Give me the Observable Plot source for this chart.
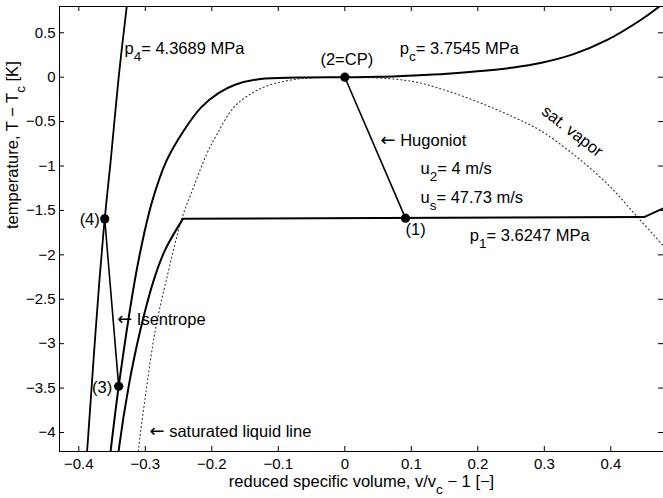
<!DOCTYPE html>
<html><head><meta charset="utf-8">
<script src="https://cdn.jsdelivr.net/npm/d3@7"></script>
<script src="https://cdn.jsdelivr.net/npm/@observablehq/plot@0.6"></script>
<style>body{margin:0;background:#fff;}</style>
</head><body><div id="chart"></div>
<script>
// axes
const xDomain = [-0.429, 0.4792];
const yDomain = [-4.214, 0.796];
const xTicks = [-0.4, -0.3, -0.2, -0.1, 0, 0.1, 0.2, 0.3, 0.4];
const yTicks = [-4, -3.5, -3, -2.5, -2, -1.5, -1, -0.5, 0, 0.5];
const xLabel = "reduced specific volume, v/v_c − 1 [−]";
const yLabel = "temperature, T − T_c [K]";

// isobar p4 = 4.3689 MPa
const p4V = [-0.3885, -0.3865, -0.378, -0.369, -0.361, -0.352, -0.340, -0.328, -0.327];
const p4T = [-4.30, -4.11, -3.20, -2.29, -1.595, -0.94, 0.0, 0.79, 0.85];
// isobar pc = 3.7545 MPa
const pcV = [-0.3537, -0.352, -0.340, -0.3158, -0.302, -0.2894, -0.268, -0.242, -0.216, -0.19, -0.165, -0.127, -0.07, 0, 0.05, 0.104, 0.154, 0.204, 0.254, 0.294, 0.344, 0.3946, 0.442, 0.47, 0.478];
const pcT = [-4.30, -4.20, -3.48, -2.29, -1.77, -1.39, -0.94, -0.60, -0.34, -0.18, -0.085, -0.02, -0.004, 0, 0.004, 0.02, 0.04, 0.07, 0.11, 0.16, 0.26, 0.42, 0.63, 0.78, 0.83];
// isobar p1 = 3.6247 MPa: liquid branch, then two-phase plateau and vapor branch
const p1LiqV = [-0.3414, -0.340, -0.325, -0.3075, -0.2875, -0.2705, -0.2435];
const p1LiqT = [-4.30, -4.20, -3.48, -2.85, -2.29, -1.95, -1.595];
const p1VapV = [-0.2435, 0.45, 0.478, 0.49];
const p1VapT = [-1.595, -1.575, -1.48, -1.44];
// saturation dome
const satLiqV = [-0.311, -0.3098, -0.300, -0.285, -0.2686, -0.2445, -0.2295, -0.208, -0.192, -0.167, -0.142, -0.117, -0.087, -0.057, 0];
const satLiqT = [-4.30, -4.17, -3.60, -2.85, -2.29, -1.58, -1.28, -0.87, -0.64, -0.34, -0.19, -0.098, -0.04, -0.01, 0];
const satVapV = [0, 0.0535, 0.1038, 0.154, 0.204, 0.254, 0.294, 0.344, 0.3946, 0.442, 0.479, 0.486];
const satVapT = [0, -0.01, -0.05, -0.154, -0.29, -0.45, -0.60, -0.87, -1.20, -1.59, -1.90, -1.96];
// Hugoniot (1)->(2) and isentrope (4)->(3)
const hugV = [0, 0.0912];
const hugT = [0, -1.587];
const isenV = [-0.361, -0.340];
const isenT = [-1.595, -3.48];
// state points
const stateNames = ["(2=CP)", "(1)", "(3)", "(4)"];
const stateV = [0, 0.0912, -0.340, -0.361];
const stateT = [0, -1.587, -3.48, -1.595];

// annotations
const annLabels = ["p_4= 4.3689 MPa", "(2=CP)", "p_c= 3.7545 MPa", "← Hugoniot", "u_2= 4 m/s", "u_s= 47.73 m/s", "(1)", "p_1= 3.6247 MPa", "(4)", "(3)", "← Isentrope", "← saturated liquid line"];
const annV = [-0.3313, 0.003, 0.0827, 0.0537, 0.1138, 0.1138, 0.0913, 0.188, -0.3684, -0.3498, -0.3423, -0.2937];
const annT = [0.323, 0.196, 0.320, -0.713, -1.031, -1.358, -1.718, -1.782, -1.605, -3.497, -2.731, -3.986];
const annAnchor = ["start", "middle", "start", "start", "start", "start", "start", "start", "end", "end", "start", "start"];
const vaporLabel = ["sat. vapor"];
const vaporV = [0.342];
const vaporT = [-0.609];

const rows = (xs, ts) => xs.map((x, i) => ({x, t: ts[i]}));
const ann = annLabels.map((s, i) => ({s, x: annV[i], t: annT[i], a: annAnchor[i]}));
const solid = {x: "x", y: "t", stroke: "#000", curve: "catmull-rom", clip: true};
const dotted = {x: "x", y: "t", stroke: "#333", strokeWidth: 1.1, strokeDasharray: "1.1 2.9", curve: "catmull-rom", clip: true};
const annFont = 16.5;
const fmt = d => String(d).replace("-", "−");

const W = 663, H = 498, mL = 59, mR = 0, mT = 6, mB = 47, tickLen = 5;
const innerW = W - mL - mR, innerH = H - mT - mB;

const svg = Plot.plot({
  width: W, height: H,
  marginLeft: mL, marginRight: mR, marginTop: mT, marginBottom: mB,
  style: {fontFamily: "'Liberation Sans', Arial, sans-serif", fontSize: "15px", background: "#fff", color: "#000"},
  x: {domain: xDomain, label: null},
  y: {domain: yDomain, label: null},
  marks: [
    Plot.line(rows(satLiqV, satLiqT), dotted),
    Plot.line(rows(satVapV, satVapT), dotted),
    Plot.line(rows(p4V, p4T), {...solid, strokeWidth: 1.8}),
    Plot.line(rows(pcV, pcT), {...solid, strokeWidth: 2}),
    Plot.line(rows(p1LiqV, p1LiqT), {...solid, strokeWidth: 2}),
    Plot.line(rows(p1VapV, p1VapT), {...solid, strokeWidth: 2, curve: "linear"}),
    Plot.line(rows(hugV, hugT), {...solid, strokeWidth: 1.6, curve: "linear"}),
    Plot.line(rows(isenV, isenT), {...solid, strokeWidth: 1.6, curve: "linear"}),
    Plot.dot(rows(stateV, stateT), {x: "x", y: "t", r: 4.6, fill: "#000", stroke: null}),
    ...["start", "middle", "end"].map(a => Plot.text(ann.filter(d => d.a === a), {x: "x", y: "t", text: "s", textAnchor: a, lineAnchor: "middle", fontSize: annFont, fill: "#000"})),
    Plot.text(rows(vaporV, vaporT).map((d, i) => ({...d, s: vaporLabel[i]})), {x: "x", y: "t", text: "s", rotate: 38, textAnchor: "middle", lineAnchor: "middle", fontSize: annFont, fill: "#000"}),
    // inward ticks on all four sides
    Plot.tickX(xTicks, {x: d => d, stroke: "#000", insetTop: innerH - tickLen}),
    Plot.tickX(xTicks, {x: d => d, stroke: "#000", insetBottom: innerH - tickLen}),
    Plot.tickY(yTicks, {y: d => d, stroke: "#000", insetRight: innerW - tickLen}),
    Plot.tickY(yTicks, {y: d => d, stroke: "#000", insetLeft: innerW - tickLen}),
    Plot.frame({stroke: "#000", strokeWidth: 1}),
    Plot.axisX(xTicks, {anchor: "bottom", tickSize: 0, tickPadding: 7, stroke: "none", label: null, tickFormat: fmt}),
    Plot.axisY(yTicks, {anchor: "left", tickSize: 0, tickPadding: 4, stroke: "none", label: null, tickFormat: fmt}),
    Plot.text([xLabel], {frameAnchor: "bottom", text: d => d, dy: 30, lineAnchor: "middle", fontSize: annFont, fill: "#000"}),
    Plot.text([yLabel], {frameAnchor: "left", text: d => d, dx: -47, rotate: -90, lineAnchor: "middle", fontSize: annFont, fill: "#000"})
  ]
});

// subscripts and arrows as real tspans
const NS = "http://www.w3.org/2000/svg";
svg.querySelectorAll("text").forEach(t => {
  const s = t.textContent;
  if (!/_.|←/.test(s)) return;
  const parts = s.split(/(_.|←)/).filter(p => p);
  t.textContent = "";
  let down = false;
  for (const p of parts) {
    const ts = document.createElementNS(NS, "tspan");
    if (p[0] === "_") {
      ts.textContent = p.slice(1);
      ts.setAttribute("dy", "7");
      ts.setAttribute("font-size", "13.5");
      down = true;
    } else if (p === "←") {
      ts.textContent = p;
      ts.setAttribute("font-family", "'DejaVu Sans'");
      ts.setAttribute("font-size", "18");
    } else {
      ts.textContent = p;
      if (down) { ts.setAttribute("dy", "-7"); down = false; }
    }
    t.appendChild(ts);
  }
});
document.getElementById("chart").appendChild(svg);
</script>
</body></html>
